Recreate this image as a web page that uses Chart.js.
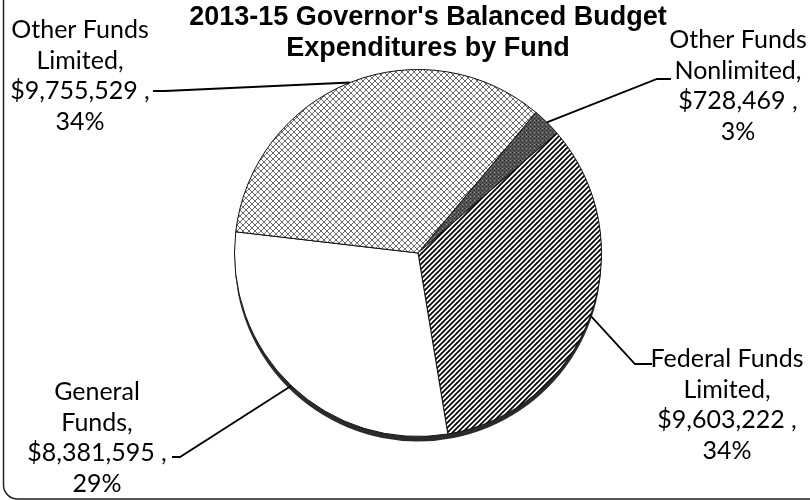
<!DOCTYPE html>
<html>
<head>
<meta charset="utf-8">
<script src="https://cdn.jsdelivr.net/npm/chart.js@4.4.0/dist/chart.umd.min.js"></script>
<style>
  html, body { margin: 0; padding: 0; background: #fff; }
</style>
</head>
<body>
<canvas id="fund-chart" width="810" height="500"></canvas>
<script>
// data
const categories = ['Other Funds Nonlimited', 'Federal Funds Limited', 'General Funds', 'Other Funds Limited'];
const labelLines = [['Other Funds', 'Nonlimited,'], ['Federal Funds', 'Limited,'], ['General', 'Funds,'], ['Other Funds', 'Limited,']];
const amounts = [728469, 9603222, 8381595, 9755529];
const titleLines = ["2013-15 Governor's Balanced Budget", 'Expenditures by Fund'];

// where each data label sits, and the bend of its leader line
const labelSpots = [
  { x: 738, y: 40, elbow: [[657, 79], [671, 79]] },
  { x: 727, y: 359, elbow: [[635, 364], [652, 364]] },
  { x: 97, y: 392, elbow: [[180, 457], [172, 457]] },
  { x: 80, y: 30, elbow: [[165, 91], [153, 91]] }
];

const canvas = document.getElementById('fund-chart');
const ctx = canvas.getContext('2d');

function makePattern(size, draw) {
  const c = document.createElement('canvas');
  c.width = size; c.height = size;
  const g = c.getContext('2d');
  g.fillStyle = '#fff';
  g.fillRect(0, 0, size, size);
  draw(g, size);
  return ctx.createPattern(c, 'repeat');
}

const crossHatch = makePattern(6, (g, s) => {
  g.strokeStyle = '#6a6a6a';
  g.lineWidth = 1;
  g.beginPath();
  g.moveTo(-1, -1); g.lineTo(s + 1, s + 1);
  g.moveTo(-1, s + 1); g.lineTo(s + 1, -1);
  g.stroke();
});

const diagLines = makePattern(5, (g, s) => {
  g.strokeStyle = '#000';
  g.lineWidth = 1.7;
  g.beginPath();
  g.moveTo(-1, s + 1); g.lineTo(s + 1, -1);
  g.moveTo(-2, 2); g.lineTo(2, -2);
  g.moveTo(s - 2, s + 2); g.lineTo(s + 2, s - 2);
  g.stroke();
});

const darkDots = makePattern(4, (g) => {
  g.fillStyle = '#555';
  g.fillRect(0, 0, 4, 4);
  g.fillStyle = '#222';
  g.fillRect(0, 0, 1, 1); g.fillRect(2, 2, 1, 1);
  g.fillStyle = '#999';
  g.fillRect(2, 0, 1, 1);
});

const fills = [darkDots, diagLines, '#ffffff', crossHatch];
const total = amounts.reduce((a, b) => a + b, 0);
const fmt = v => '$' + v.toLocaleString('en-US') + ' ,';

const deco = {
  id: 'deco',
  beforeDraw(chart) {
    const c = chart.ctx;
    c.save();
    c.fillStyle = '#fff';
    c.fillRect(0, 0, chart.width, chart.height);
    c.strokeStyle = '#222';
    c.lineWidth = 1.5;
    c.beginPath();
    c.roundRect(3.5, -40, 900, 539, 14);
    c.stroke();
    c.restore();
  },
  beforeDatasetsDraw(chart) {
    const c = chart.ctx;
    const arc = chart.getDatasetMeta(0).data[0];
    c.save();
    c.fillStyle = '#2a2a2a';
    c.beginPath();
    c.arc(arc.x, arc.y + 5, arc.outerRadius, 0, Math.PI * 2);
    c.fill();
    c.restore();
  },
  afterDatasetsDraw(chart) {
    const c = chart.ctx;
    c.save();
    c.fillStyle = '#000';
    c.textAlign = 'center';
    c.textBaseline = 'middle';
    c.font = 'bold 27px "Liberation Sans", Arial, sans-serif';
    titleLines.forEach((t, i) => c.fillText(t, 428, 18 + i * 31));

    c.font = '25px Lato, "Open Sans", sans-serif';
    c.strokeStyle = '#000';
    c.lineWidth = 1.8;
    chart.getDatasetMeta(0).data.forEach((arc, i) => {
      const mid = (arc.startAngle + arc.endAngle) / 2;
      const spot = labelSpots[i];
      c.beginPath();
      c.moveTo(arc.x + arc.outerRadius * Math.cos(mid), arc.y + arc.outerRadius * Math.sin(mid));
      spot.elbow.forEach(p => c.lineTo(p[0], p[1]));
      c.stroke();
      const pct = Math.round(amounts[i] / total * 100) + '%';
      const lines = labelLines[i].concat([fmt(amounts[i]), pct]);
      lines.forEach((t, k) => c.fillText(t, spot.x, spot.y + k * 30.5));
    });
    c.restore();
  }
};

new Chart(ctx, {
  type: 'pie',
  data: {
    labels: categories,
    datasets: [{
      data: amounts,
      backgroundColor: fills,
      borderColor: '#111',
      borderWidth: 1
    }]
  },
  options: {
    responsive: false,
    animation: false,
    rotation: 40,
    layout: { padding: { top: 69, bottom: 63, left: 26, right: 0 } },
    plugins: {
      legend: { display: false },
      tooltip: { enabled: false },
      title: { display: false }
    }
  },
  plugins: [deco]
});
</script>
</body>
</html>
